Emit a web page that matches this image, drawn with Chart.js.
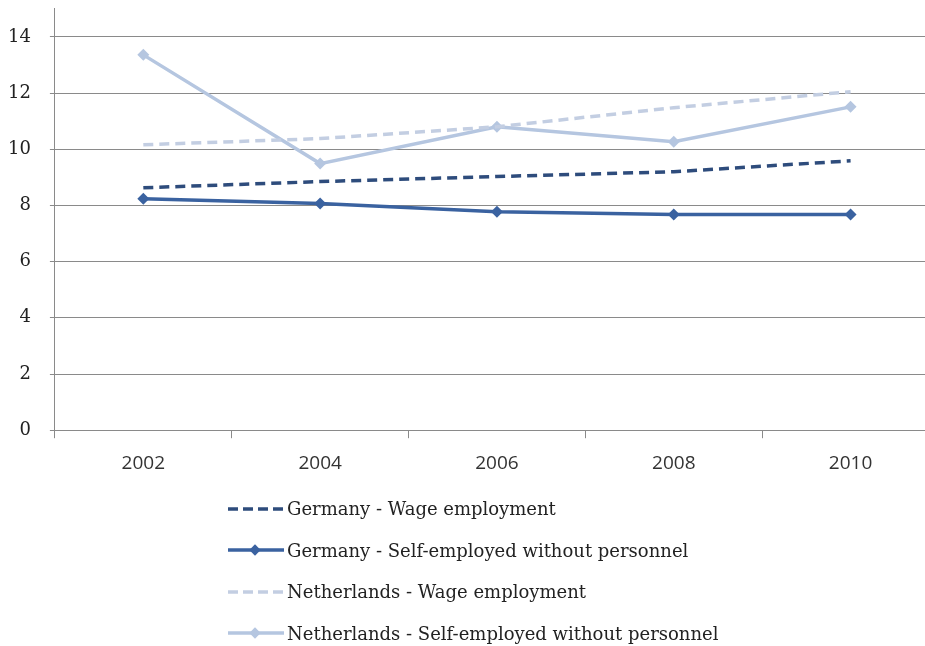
<!DOCTYPE html>
<html>
<head>
<meta charset="utf-8">
<script src="https://cdn.jsdelivr.net/npm/chart.js@4/dist/chart.umd.min.js"></script>
<style>
  html, body { margin: 0; padding: 0; background: #fff; overflow: hidden; width: 925px; height: 646px; }
  #wrap { position: absolute; left: -11px; top: -21px; width: 956px; height: 514px; }
  #legend { position: absolute; left: 228px; top: 488px; font-family: 'DejaVu Serif', 'Liberation Serif', serif; font-size: 18px; color: #222; }
  #legend .item { display: flex; align-items: center; height: 41.5px; }
  #legend svg { margin-right: 3px; }
</style>
</head>
<body>
<div id="wrap"><canvas id="c"></canvas></div>
<div id="legend"></div>
<script>
'use strict';

const years = ['2002', '2004', '2006', '2008', '2010'];
const deWage = [8.63, 8.85, 9.03, 9.2, 9.59];
const deSelf = [8.24, 8.07, 7.78, 7.68, 7.68];
const nlWage = [10.16, 10.38, 10.8, 11.48, 12.05];
const nlSelf = [13.36, 9.49, 10.8, 10.27, 11.51];
const yTicks = [0, 2, 4, 6, 8, 10, 12, 14];

const GRID = '#8a8a8a';

const series = [
  { label: 'Germany - Wage employment', data: deWage, color: '#2e4c7c', dash: [10, 6], point: false },
  { label: 'Germany - Self-employed without personnel', data: deSelf, color: '#3a62a0', dash: [], point: true },
  { label: 'Netherlands - Wage employment', data: nlWage, color: '#c3cee2', dash: [10, 6], point: false },
  { label: 'Netherlands - Self-employed without personnel', data: nlSelf, color: '#b5c6e0', dash: [], point: true }
];

new Chart(document.getElementById('c').getContext('2d'), {
  type: 'line',
  data: {
    labels: years,
    datasets: series.map(s => ({
      label: s.label, data: s.data, borderColor: s.color, backgroundColor: s.color,
      borderWidth: 3.5, borderDash: s.dash, tension: 0,
      pointStyle: 'rectRot', pointRadius: s.point ? 6 : 0, pointBorderWidth: 0
    }))
  },
  options: {
    responsive: true, maintainAspectRatio: false, animation: false,
    layout: { padding: { top: 0, left: 0, right: 0, bottom: 4 } },
    plugins: { legend: { display: false }, tooltip: { enabled: false } },
    scales: {
      x: {
        offset: true,
        grid: { offset: true, drawOnChartArea: false, color: GRID, tickLength: 8 },
        border: { color: GRID },
        ticks: { color: '#333', padding: 14, font: { family: 'Open Sans', size: 19 } }
      },
      y: {
        min: 0, max: 15,
        afterBuildTicks: sc => { sc.ticks = yTicks.map(v => ({ value: v })); },
        grid: { color: GRID, tickLength: 5 },
        border: { color: GRID },
        ticks: { color: '#222', padding: 19, font: { family: 'DejaVu Serif', size: 18 } }
      }
    }
  }
});

const lg = document.getElementById('legend');
series.forEach(s => {
  const d = document.createElement('div');
  d.className = 'item';
  const dash = s.dash.length ? `stroke-dasharray="10 5"` : '';
  const mk = s.point ? `<rect x="23" y="6" width="8" height="8" fill="${s.color}" transform="rotate(45 27 10)"/>` : '';
  d.innerHTML = `<svg width="56" height="20"><line x1="0" y1="10" x2="56" y2="10" stroke="${s.color}" stroke-width="3.5" ${dash}/>${mk}</svg><span>${s.label}</span>`;
  lg.appendChild(d);
});
</script>
</body>
</html>
